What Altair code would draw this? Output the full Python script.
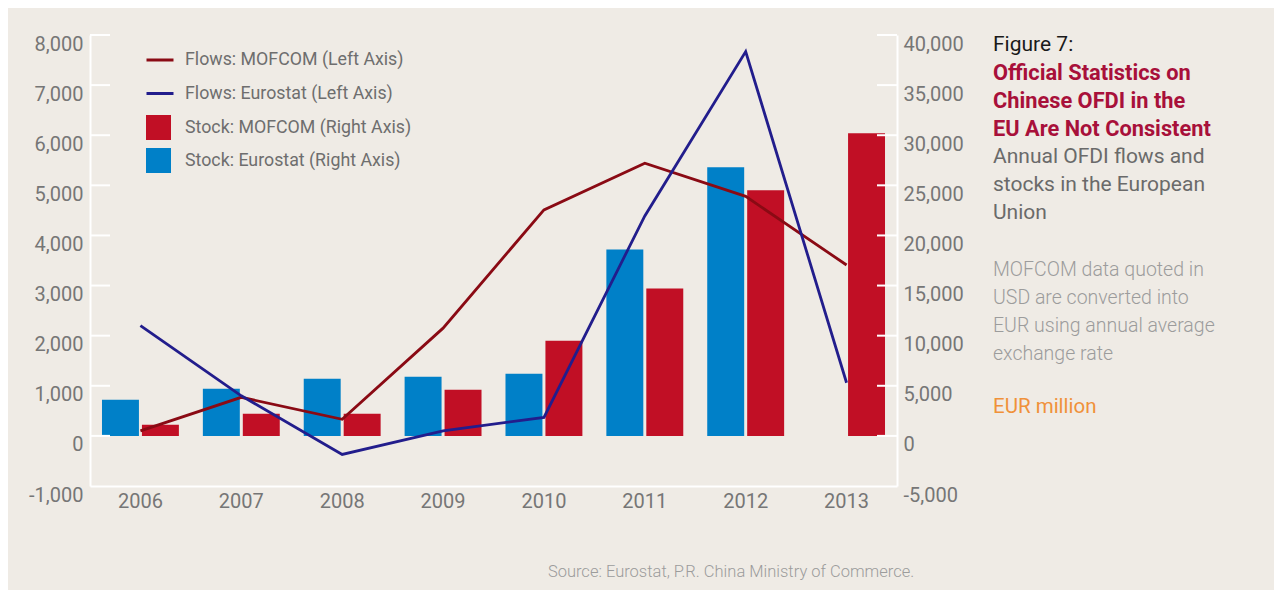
import altair as alt
import pandas as pd

years = ["2006", "2007", "2008", "2009", "2010", "2011", "2012", "2013"]
flows_mofcom = [100, 770, 330, 2150, 4510, 5440, 4780, 3410]
flows_eurostat = [2200, 800, -370, 100, 370, 4390, 7670, 1060]
stock_mofcom = [1100, 2200, 2200, 4600, 9500, 14700, 24500, 30200]
stock_eurostat = [3600, 4700, 5700, 5900, 6200, 18600, 26800, None]

left_ticks = [-1000, 0, 1000, 2000, 3000, 4000, 5000, 6000, 7000, 8000]
right_ticks = [-5000, 0, 5000, 10000, 15000, 20000, 25000, 30000, 35000, 40000]

S_FM = "Flows: MOFCOM (Left Axis)"
S_FE = "Flows: Eurostat (Left Axis)"
S_SM = "Stock: MOFCOM (Right Axis)"
S_SE = "Stock: Eurostat (Right Axis)"

FONT = "Roboto"
BG = "#efebe5"
LABEL = "#767676"
LBL_EXPR = "replace(format(datum.value, ','), '\u2212', '-')"

flows = pd.DataFrame(
    [{"year": y, "series": S_FM, "value": v} for y, v in zip(years, flows_mofcom)]
    + [{"year": y, "series": S_FE, "value": v} for y, v in zip(years, flows_eurostat)]
)
stocks = pd.DataFrame(
    [{"year": y, "series": S_SM, "value": v} for y, v in zip(years, stock_mofcom)]
    + [{"year": y, "series": S_SE, "value": v} for y, v in zip(years, stock_eurostat) if v is not None]
)
ticks = pd.DataFrame({"v": [t for t in left_ticks if t >= 0]})

x_scale = alt.Scale(domain=years, paddingInner=0, paddingOuter=0)
x_enc = alt.X(
    "year:N",
    scale=x_scale,
    axis=alt.Axis(
        title=None, labelAngle=0, ticks=False, domainColor="white", domainWidth=2,
        labelFontSize=20, labelColor=LABEL, labelPadding=5, labelFont=FONT,
    ),
)

right_axis = alt.Axis(
    orient="right", title=None, values=right_ticks, ticks=False,
    grid=False, domainColor="white", domainWidth=2, labelFontSize=20,
    labelColor=LABEL, labelPadding=6, labelOffset=9, labelFont=FONT,
    labelOverlap=False, labelFlush=False, labelExpr=LBL_EXPR,
)
left_axis = alt.Axis(
    orient="left", title=None, values=left_ticks, ticks=False,
    grid=False, domainColor="white", domainWidth=2, labelFontSize=20,
    labelColor=LABEL, labelPadding=7, labelOffset=9, labelFont=FONT,
    labelOverlap=False, labelFlush=False, labelExpr=LBL_EXPR,
)

bars = alt.Chart(stocks).mark_bar(strokeWidth=0).encode(
    x=x_enc,
    xOffset=alt.XOffset(
        "series:N",
        scale=alt.Scale(domain=[S_SE, S_SM], paddingInner=0.075, paddingOuter=0.3),
    ),
    y=alt.Y(
        "value:Q",
        scale=alt.Scale(domain=[-5000, 40000], nice=False, zero=False),
        axis=right_axis,
    ),
    fill=alt.Fill(
        "series:N",
        scale=alt.Scale(domain=[S_SM, S_SE], range=["#c10f25", "#0080c8"]),
        legend=alt.Legend(
            orient="none", legendX=56, legendY=80, title=None, symbolType="square",
            symbolSize=625, symbolStrokeWidth=0, symbolOpacity=1, labelFontSize=17.8,
            labelColor="#6e6e6e", labelOffset=14, rowPadding=8, padding=0,
            labelFont=FONT, labelLimit=400,
        ),
    ),
)

y_left = alt.Scale(domain=[-1000, 8000], nice=False, zero=False)

lines = alt.Chart(flows).mark_line(strokeWidth=2.8).encode(
    x=alt.X("year:N", scale=x_scale),
    y=alt.Y("value:Q", scale=y_left, axis=left_axis),
    stroke=alt.Stroke(
        "series:N",
        scale=alt.Scale(domain=[S_FM, S_FE], range=["#8a0a14", "#221d8c"]),
        legend=alt.Legend(
            orient="none", legendX=55, legendY=10, title=None, symbolType="stroke",
            symbolSize=729, symbolStrokeWidth=3, labelFontSize=17.8,
            labelColor="#6e6e6e", labelOffset=10, rowPadding=9.5, padding=0,
            labelFont=FONT, labelLimit=400,
        ),
    ),
    order=alt.Order("year:N"),
)

tick_left = alt.Chart(ticks).mark_rule(color="white", strokeWidth=2).encode(
    y=alt.Y("v:Q", scale=y_left, axis=left_axis),
    x=alt.value(0),
    x2=alt.value(20),
)
tick_right = alt.Chart(ticks).mark_rule(color="white", strokeWidth=2).encode(
    y=alt.Y("v:Q", scale=y_left, axis=left_axis),
    x=alt.value(787),
    x2=alt.value(807),
)

line_group = alt.layer(lines, tick_left, tick_right)

one = pd.DataFrame({"a": [0]})


def txt(lines_, x, y, color, size, weight="normal", align="left"):
    return alt.Chart(one).mark_text(
        text=lines_, align=align, baseline="middle", font=FONT, fontSize=size,
        fontWeight=weight, color=color, lineHeight=28,
    ).encode(x=alt.value(x), y=alt.value(y))


texts = [
    txt(["Figure 7:"], 903, 10, "#1a1a1a", 21),
    txt(["Official Statistics on", "Chinese OFDI in the", "EU Are Not Consistent"],
        903, 38, "#a8103a", 21.8, "bold"),
    txt(["Annual OFDI flows and", "stocks in the European", "Union"],
        903, 122, "#6a6a6a", 21),
    txt(["MOFCOM data quoted in", "USD are converted into",
         "EUR using annual average", "exchange rate"],
        903, 235, "#9c9c9c", 19.5, 300),
    txt(["EUR million"], 903, 372, "#f0913a", 20.5),
    txt(["Source: Eurostat, P.R. China Ministry of Commerce."],
        641, 537, "#9c9c9c", 16.5, 300, "center"),
]

chart = (
    alt.layer(bars, line_group, *texts)
    .resolve_scale(y="independent")
    .properties(
        width=807,
        height=451,
        padding={"left": 82, "top": 27, "right": 377, "bottom": 104},
        autosize=alt.AutoSizeParams(type="none"),
        background=BG,
    )
    .configure_view(stroke=None)
)

chart.save("out.html", embed_options={"renderer": "svg", "actions": False})
